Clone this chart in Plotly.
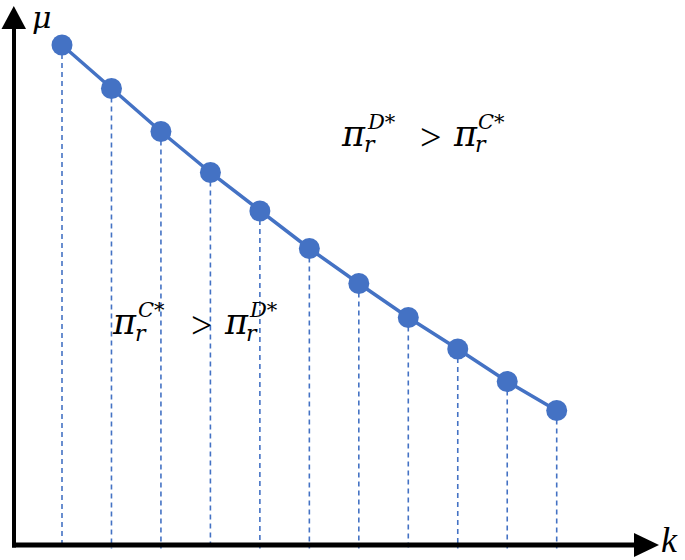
import plotly.graph_objects as go

W, H = 685, 560

# Data
k_vals = [1, 2, 3, 4, 5, 6, 7, 8, 9, 10, 11]
mu_vals = [10.0, 9.13, 8.27, 7.45, 6.68, 5.93, 5.23, 4.55, 3.92, 3.27, 2.69]
axis_labels = {"x": "k", "y": "μ"}
region_upper = ("D", "C")   # pi_r^{D*} > pi_r^{C*}
region_lower = ("C", "D")   # pi_r^{C*} > pi_r^{D*}

BLUE = "#4472C4"
FONT = "DejaVu Serif"
FONT2 = "Liberation Serif"

def P(px, py):
    return px / W, 1 - py / H

fig = go.Figure()

# dashed drop lines
dx, dy = [], []
for k, m in zip(k_vals, mu_vals):
    dx += [k, k, None]
    dy += [m, -0.07, None]
fig.add_trace(go.Scatter(x=dx, y=dy, mode="lines",
                         line=dict(color=BLUE, width=1.6, dash="5px,4px"),
                         hoverinfo="skip", showlegend=False))

fig.add_trace(go.Scatter(x=k_vals, y=mu_vals, mode="lines+markers",
                         line=dict(color=BLUE, width=3.5),
                         marker=dict(color=BLUE, size=21, line=dict(width=0)),
                         showlegend=False))

shapes = []
# vertical axis
x0, y0 = P(14, 547.5)
x1, y1 = P(14, 27)
shapes.append(dict(type="line", xref="paper", yref="paper", x0=x0, y0=y0, x1=x1, y1=y1,
                   line=dict(color="black", width=4)))
# horizontal axis
x0, y0 = P(12, 545)
x1, y1 = P(638, 545)
shapes.append(dict(type="line", xref="paper", yref="paper", x0=x0, y0=y0, x1=x1, y1=y1,
                   line=dict(color="black", width=5)))

def tri(pts):
    s = ""
    for i, (px, py) in enumerate(pts):
        x, y = P(px, py)
        s += ("M" if i == 0 else "L") + f"{x},{y} "
    return s + "Z"

shapes.append(dict(type="path", xref="paper", yref="paper",
                   path=tri([(1.5, 29), (26, 29), (13.8, 6)]),
                   fillcolor="black", line=dict(width=0)))
shapes.append(dict(type="path", xref="paper", yref="paper",
                   path=tri([(634, 533), (634, 557), (659, 545)]),
                   fillcolor="black", line=dict(width=0)))

ann = []
def txt(t, px, py, size, font=FONT, xanchor="left"):
    x, y = P(px, py)
    ann.append(dict(text=t, x=x, y=y, xref="paper", yref="paper", showarrow=False,
                    xanchor=xanchor, yanchor="middle",
                    font=dict(family=font, size=size, color="black")))

txt(f"<i>{axis_labels['y']}</i>", 30, 17, 30)
txt(f"<i>{axis_labels['x']}</i>", 659, 540, 36, FONT2)

def formula(a, b, px, py):
    # px: left of first pi, py: vertical centre of pi body
    txt("<i>π</i>", px - 3, py - 6, 35)
    txt(f"<i>{a}</i>*", px + 23, py - 18, 21)
    txt("<i>r</i>", px + 20, py + 5, 22)
    txt(">", px + 76, py - 3, 38, FONT2)
    txt("<i>π</i>", px + 109, py - 6, 35)
    txt(f"<i>{b}</i>*", px + 134, py - 18, 21)
    txt("<i>r</i>", px + 131, py + 5, 22)

formula(region_upper[0], region_upper[1], 342, 140)
formula(region_lower[0], region_lower[1], 113, 328)

fig.update_layout(
    width=W, height=H, margin=dict(l=0, r=0, t=0, b=0),
    paper_bgcolor="white", plot_bgcolor="white",
    xaxis=dict(range=[-12.53 / 49.47, (W - 12.53) / 49.47], visible=False, fixedrange=True),
    yaxis=dict(range=[(545 - H) / 50, 545 / 50], visible=False, fixedrange=True),
    shapes=shapes, annotations=ann, showlegend=False,
)

fig.write_html("out.html", config={"displayModeBar": False},
               post_script="document.body.style.margin='0px';document.body.style.overflow='hidden';")
